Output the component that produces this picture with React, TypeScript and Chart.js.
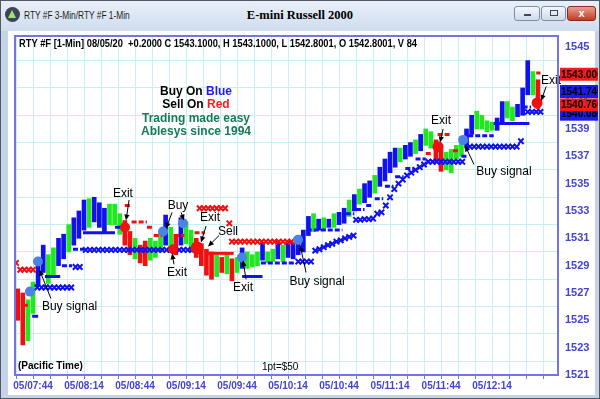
import React, { useEffect, useRef } from 'react';
import { Chart, registerables } from 'chart.js';

Chart.register(...registerables);

// ---------------- data ----------------
// 3-minute price bars (minutes after midnight, first bar 07:35)
const barStartMinute = 455;
const barStepMinutes = 3;
const barHigh = [
  1527.3, 1527.0, 1526.5, 1527.8, 1529.6, 1530.5, 1529.8, 1530.3, 1531.0, 1531.3,
  1532.0, 1532.5, 1533.0, 1533.8, 1533.9, 1534.0, 1533.6, 1533.2, 1533.5, 1533.5,
  1532.8, 1532.3, 1531.5, 1531.0, 1530.5, 1530.8, 1531.0, 1530.8, 1531.5, 1532.7,
  1531.8, 1531.3, 1532.5, 1532.2, 1531.6, 1531.0, 1530.6, 1530.2, 1530.0, 1529.8,
  1529.6, 1529.9, 1529.5, 1529.6, 1530.3, 1530.0, 1529.8, 1530.0, 1530.7, 1530.0,
  1530.2, 1530.8, 1530.5, 1530.8, 1530.7, 1531.2, 1531.6, 1532.6, 1532.8, 1532.4,
  1532.5, 1532.4, 1532.8, 1532.9, 1533.2, 1533.8, 1534.2, 1534.6, 1535.0, 1535.2,
  1535.6, 1536.2, 1536.8, 1537.3, 1537.6, 1537.6, 1537.8, 1538.0, 1538.2, 1538.6,
  1539.0, 1538.8, 1538.2, 1537.5, 1537.3, 1537.5, 1537.8, 1538.2, 1539.0, 1540.0,
  1540.3, 1540.0, 1539.6, 1539.5, 1539.8, 1541.0, 1541.0, 1540.6, 1540.8, 1542.0,
  1544.0, 1543.2, 1542.6,
];
const barLow = [
  1525.0, 1523.2, 1523.5, 1525.5, 1527.5, 1528.5, 1527.7, 1528.3, 1529.0, 1529.5,
  1530.0, 1530.5, 1531.0, 1531.6, 1531.8, 1532.2, 1531.8, 1531.4, 1532.0, 1532.0,
  1531.3, 1530.5, 1529.8, 1529.5, 1529.2, 1529.0, 1529.4, 1529.6, 1530.0, 1530.5,
  1530.0, 1529.8, 1530.5, 1530.6, 1530.0, 1529.6, 1529.0, 1528.3, 1528.0, 1528.2,
  1528.5, 1528.4, 1527.9, 1528.5, 1528.8, 1528.8, 1528.9, 1529.0, 1529.4, 1529.2,
  1529.3, 1529.5, 1529.3, 1529.6, 1529.5, 1529.8, 1530.0, 1531.2, 1531.5, 1531.6,
  1531.6, 1531.8, 1531.8, 1532.0, 1532.1, 1532.6, 1533.0, 1533.5, 1533.6, 1534.0,
  1534.3, 1534.8, 1535.2, 1535.8, 1536.2, 1536.6, 1536.8, 1537.0, 1537.2, 1537.4,
  1537.8, 1537.6, 1536.6, 1535.9, 1536.0, 1535.8, 1536.8, 1537.0, 1537.6, 1538.6,
  1539.0, 1539.0, 1538.8, 1538.9, 1538.9, 1539.4, 1539.8, 1539.6, 1539.9, 1540.0,
  1541.5, 1541.5, 1540.5,
];
const barColor = [
  'r', 'r', 'g', 'g', 'b', 'b', 'g', 'g', 'b', 'b',
  'g', 'b', 'b', 'b', 'g', 'b', 'b', 'b', 'g', 'g',
  'g', 'r', 'r', 'g', 'r', 'r', 'g', 'g', 'g', 'b',
  'g', 'r', 'b', 'g', 'g', 'r', 'r', 'r', 'r', 'g',
  'r', 'g', 'r', 'g', 'b', 'g', 'g', 'g', 'b', 'g',
  'g', 'b', 'g', 'b', 'b', 'b', 'b', 'b', 'g', 'b',
  'g', 'b', 'g', 'b', 'b', 'g', 'b', 'g', 'b', 'b',
  'g', 'b', 'b', 'b', 'b', 'g', 'b', 'b', 'g', 'b',
  'g', 'g', 'r', 'r', 'g', 'g', 'g', 'g', 'b', 'b',
  'g', 'g', 'g', 'g', 'b', 'b', 'g', 'g', 'b', 'b',
  'b', 'g', 'r',
];

// trailing stop crosses [minute, price]
const blueStopCross: [number, number][] = [
  [466.5, 1527.4], [469, 1527.4], [471.5, 1527.4], [474, 1527.4], [476.5, 1527.4], [479, 1527.4], [481.5, 1527.4], [484, 1527.4], [486.5, 1527.4],
  [489, 1528.9], [491.5, 1528.9],
  [495, 1530.15], [497.5, 1530.15], [500, 1530.15], [502.5, 1530.15], [505, 1530.15], [507.5, 1530.15], [510, 1530.15], [512.5, 1530.15], [515, 1530.15],
  [517.5, 1530.15], [520, 1530.15], [522.5, 1530.15], [525, 1530.15], [527.5, 1530.15], [530, 1530.15], [532.5, 1530.15], [535, 1530.15], [537.5, 1530.15],
  [540, 1530.15], [542.5, 1530.15], [545, 1530.15], [547.5, 1530.15], [550, 1530.15], [552.5, 1530.15], [555, 1530.15], [557.5, 1530.15], [560, 1530.15],
  [620, 1529.3], [622.5, 1529.3], [625, 1529.3], [627.5, 1529.3],
  [630, 1530.1], [632.5, 1530.2], [635, 1530.35], [637.5, 1530.5], [640, 1530.6], [642.5, 1530.75], [645, 1530.85], [647.5, 1531.0], [650, 1531.1], [652.5, 1531.2],
  [654, 1532.35], [656.5, 1532.35], [659, 1532.4], [661.5, 1532.4], [664, 1532.45], [666.5, 1532.8], [669, 1532.9], [671.5, 1533.4], [674, 1534.0],
  [676.5, 1534.6], [679, 1535.0], [681.5, 1535.3], [684, 1535.6], [686.5, 1535.8], [689, 1536.0], [691.5, 1536.2], [694, 1536.4],
  [696.5, 1536.6], [699, 1536.6], [701.5, 1536.6], [704, 1536.6], [706.5, 1536.6], [709, 1536.6], [711.5, 1536.6], [714, 1536.6], [716.5, 1536.6],
  [721, 1537.7], [723.5, 1537.7], [726, 1537.7], [728.5, 1537.7], [731, 1537.7], [733.5, 1537.7], [736, 1537.7], [738.5, 1537.7], [741, 1537.7],
  [743.5, 1537.7], [746, 1537.7], [748.5, 1537.7], [751, 1538.1],
  [755, 1540.25], [757.5, 1540.25], [760, 1540.25], [762.5, 1540.25],
];
const redStopCross: [number, number][] = [
  [454, 1529.2], [456.5, 1528.7], [459, 1528.7], [461.5, 1528.7], [464, 1528.7],
  [562, 1533.2], [564.5, 1533.2], [567, 1533.2], [569.5, 1533.2], [572, 1533.2], [574.5, 1533.2], [577, 1533.2],
  [579.5, 1532.1],
  [581, 1530.75], [583.5, 1530.75], [586, 1530.75], [588.5, 1530.75], [591, 1530.75], [593.5, 1530.75], [596, 1530.75], [598.5, 1530.75],
  [601, 1530.75], [603.5, 1530.75], [606, 1530.75], [608.5, 1530.75], [611, 1530.75], [613.5, 1530.75], [616, 1530.75], [618.5, 1530.75],
];

// trailing stop dashes [fromMinute, toMinute, price]
const blueStopSolid: [number, number, number][] = [
  [463.5, 467, 1525.3], [471, 480, 1528.2], [493.4, 512.2, 1531.4], [512.2, 516.4, 1531.8], [587, 599, 1528.2], [735, 756, 1539.4],
];
const blueStopDashed: [number, number, number][] = [
  [481, 487, 1529.0], [487.5, 494, 1530.2], [598, 618, 1529.2], [625, 646, 1531.6], [648, 653, 1532.8], [654, 659, 1533.1],
  [660, 664, 1533.4], [665, 670, 1533.9], [671, 676, 1534.8], [677, 682, 1535.5], [683, 688, 1536.1], [689, 695, 1536.8],
  [716, 720, 1537.0], [720, 735, 1538.5], [752, 757, 1540.6],
];
const redStopSolid: [number, number, number][] = [
  [567, 582, 1529.9],
];
const redStopDashed: [number, number, number][] = [
  [458, 462, 1526.1], [518, 522, 1533.4], [522, 531, 1532.2], [531, 535, 1531.8], [535, 540, 1531.2], [547, 553, 1531.2],
  [559, 565, 1531.4], [695, 699, 1537.2], [702, 709, 1538.6], [711, 714, 1537.4], [760, 762.5, 1543.1],
];

// signal dots [minute, price]
const buyDots: [number, number][] = [
  [462.2, 1527.1], [466.9, 1529.3], [540.5, 1531.5], [552.2, 1532.1], [586.9, 1529.6], [619.9, 1530.9], [717, 1538.2],
];
const exitDots: [number, number][] = [
  [518.1, 1531.8], [546.4, 1530.2], [560.5, 1530.3], [702.2, 1537.7], [760.5, 1540.9],
];

// callouts [text, minute, price] and arrows [fromMinute, fromPrice, toMinute, toPrice]
const noteLabels: [string, number, number][] = [
  ['Buy signal', 485.5, 1526.0],
  ['Exit', 516.9, 1534.3],
  ['Buy', 549.3, 1533.4],
  ['Exit', 548.7, 1528.5],
  ['Exit', 568.1, 1532.5],
  ['Sell', 578.7, 1531.5],
  ['Exit', 587.5, 1527.4],
  ['Buy signal', 631.1, 1527.8],
  ['Exit', 704, 1539.6],
  ['Buy signal', 741, 1535.9],
  ['Exit', 768.7, 1542.5],
];
const noteArrows: [number, number, number, number][] = [
  [474.5, 1526.6, 467.8, 1528.7],
  [520.5, 1533.8, 518.7, 1532.3],
  [545.8, 1532.9, 542.2, 1531.7],
  [551.1, 1532.9, 552.8, 1532.3],
  [546.9, 1529.1, 545.8, 1529.9],
  [565.8, 1531.9, 562.8, 1530.7],
  [573.4, 1531.2, 566.9, 1530.4],
  [589.3, 1528.0, 587.5, 1529.4],
  [624.6, 1528.5, 621.1, 1530.5],
  [705.2, 1539.0, 703.4, 1538.0],
  [723.4, 1536.4, 718.1, 1537.8],
  [765.8, 1542.1, 762.9, 1541.05],
];

// right-hand price tags
const priceTagValues = [1540.08, 1540.76, 1541.74, 1543.0];
const priceTagTexts = ['1540.0800', '1540.7600', '1541.7400', '1543.0000'];
const priceTagKinds = ['b', 'r', 'b', 'r'];

// axes
const xMin = 453.4;
const xMax = 772.8;
const yMin = 1521;
const yMax = 1545.8;
const xGridMinutes = [454, 464, 474, 484, 494, 504, 514, 524, 534, 544, 554, 564, 574, 584, 594, 604, 614, 624, 634, 644, 654, 664, 674, 684, 694, 704, 714, 724, 734, 744, 754, 764];
const xLabelMinutes = [464, 494, 524, 554, 584, 614, 644, 674, 704, 734];
const xLabels = ['05/07:44', '05/08:14', '05/08:44', '05/09:14', '05/09:44', '05/10:14', '05/10:44', '05/11:14', '05/11:44', '05/12:14'];
const yTickValues = [1521, 1522, 1523, 1524, 1525, 1526, 1527, 1528, 1529, 1530, 1531, 1532, 1533, 1534, 1535, 1536, 1537, 1538, 1539, 1540, 1541, 1542, 1543, 1544, 1545];

const headerText = 'RTY #F [1-Min] 08/05/20  +0.2000 C 1543.1000, H 1543.1000, L 1542.8001, O 1542.8001, V 84';

// ---------------- styles ----------------
const BLUE = '#1010f0';
const GREEN = '#1ee81e';
const RED = '#f01010';
const DOT_BLUE = '#4b82e6';
const GRID = '#c9eff6';
const AXIS_BLUE = '#4444d4';
const FRAME = '#7474e2';
const FONT = 'Arial, "Liberation Sans", sans-serif';

const segData = (segs: [number, number, number][]) =>
  segs.flatMap(([a, b, v]) => [{ x: a, y: v }, { x: b, y: v }, { x: b, y: null as any }]);
const ptData = (pts: [number, number][]) => pts.map(([x, y]) => ({ x, y }));

const overlayPlugin = {
  id: 'overlay',
  afterDatasetsDraw(chart: any) {
    const ctx = chart.ctx;
    const xs = chart.scales.x;
    const ys = chart.scales.y;
    const px = (t: number) => xs.getPixelForValue(t);
    const py = (v: number) => ys.getPixelForValue(v);
    ctx.save();
    ctx.strokeStyle = '#000';
    ctx.fillStyle = '#000';
    ctx.lineWidth = 1;
    for (const [t0, v0, t1, v1] of noteArrows) {
      const x0 = px(t0), y0 = py(v0), x1 = px(t1), y1 = py(v1);
      const a = Math.atan2(y1 - y0, x1 - x0);
      const L = 6, W = 2.6;
      ctx.beginPath();
      ctx.moveTo(x0, y0);
      ctx.lineTo(x1 - 3 * Math.cos(a), y1 - 3 * Math.sin(a));
      ctx.stroke();
      ctx.beginPath();
      ctx.moveTo(x1, y1);
      ctx.lineTo(x1 - L * Math.cos(a) + W * Math.sin(a), y1 - L * Math.sin(a) - W * Math.cos(a));
      ctx.lineTo(x1 - L * Math.cos(a) - W * Math.sin(a), y1 - L * Math.sin(a) + W * Math.cos(a));
      ctx.closePath();
      ctx.fill();
    }
    ctx.font = '12px ' + FONT;
    ctx.textAlign = 'center';
    ctx.textBaseline = 'middle';
    for (const [text, t, v] of noteLabels) ctx.fillText(text, px(t), py(v));
    ctx.restore();
  },
  afterDraw(chart: any) {
    const ctx = chart.ctx;
    const area = chart.chartArea;
    const ys = chart.scales.y;
    ctx.save();
    // header line
    ctx.fillStyle = '#000';
    ctx.font = 'bold 10px ' + FONT;
    ctx.textAlign = 'left';
    ctx.textBaseline = 'middle';
    ctx.fillText(headerText, area.left + 4, 44, 398);
    // brand block
    const cx = 196;
    const two = (a: string, b: string, col: string, y: number) => {
      ctx.font = 'bold 12px ' + FONT;
      const wa = ctx.measureText(a).width;
      const wb = ctx.measureText(b).width;
      const x0 = cx - (wa + wb) / 2;
      ctx.textAlign = 'left';
      ctx.fillStyle = '#000';
      ctx.fillText(a, x0, y);
      ctx.fillStyle = col;
      ctx.fillText(b, x0 + wa, y);
    };
    two('Buy On ', 'Blue', '#1a1aff', 92);
    two('Sell On ', 'Red', '#ff1a1a', 105);
    ctx.textAlign = 'center';
    ctx.fillStyle = '#177a56';
    ctx.fillText('Trading made easy', cx, 119);
    ctx.fillText('Ablesys since 1994', cx, 132);
    // footer
    ctx.textAlign = 'left';
    ctx.fillStyle = '#000';
    ctx.font = 'bold 10px ' + FONT;
    ctx.fillText('(Pacific Time)', area.left + 3, 366);
    ctx.font = '10px ' + FONT;
    ctx.fillText('1pt=$50', 262, 367);
    // frame
    ctx.strokeStyle = FRAME;
    ctx.lineWidth = 2;
    ctx.strokeRect(area.left, area.top, area.right - area.left, area.bottom - area.top);
    // price tags
    priceTagValues.forEach((v, i) => {
      const y = ys.getPixelForValue(v);
      const bx = area.right + 2;
      const bw = 598 - bx;
      ctx.fillStyle = priceTagKinds[i] === 'r' ? '#f51a1a' : '#1a1af2';
      ctx.fillRect(bx, y - 6.5, bw, 13);
      ctx.save();
      ctx.beginPath();
      ctx.rect(bx, y - 6.5, bw, 13);
      ctx.clip();
      ctx.fillStyle = '#000';
      ctx.font = 'bold 10px ' + FONT;
      ctx.textAlign = 'left';
      ctx.textBaseline = 'middle';
      ctx.fillText(priceTagTexts[i], bx + 1, y + 0.5);
      ctx.restore();
    });
    ctx.restore();
  },
};

export default function App() {
  const ref = useRef<HTMLCanvasElement>(null);
  useEffect(() => {
    const canvas = ref.current;
    if (!canvas) return;
    const chart = new Chart(canvas, {
      type: 'bar',
      data: {
        datasets: [
          {
            type: 'line',
            data: ptData(buyDots),
            showLine: false,
            pointStyle: 'circle',
            pointRadius: 5,
            pointBorderWidth: 0,
            pointBackgroundColor: DOT_BLUE,
            pointBorderColor: DOT_BLUE,
            order: 0,
          } as any,
          {
            type: 'line',
            data: ptData(exitDots),
            showLine: false,
            pointStyle: 'circle',
            pointRadius: [5, 5, 6.5, 5.5, 5.5],
            pointBorderWidth: 0,
            pointBackgroundColor: RED,
            pointBorderColor: RED,
            order: 0,
          } as any,
          {
            type: 'line',
            data: ptData(blueStopCross),
            showLine: false,
            pointStyle: 'crossRot',
            pointRadius: 3.8,
            pointBorderWidth: 2,
            pointBorderColor: BLUE,
            pointBackgroundColor: BLUE,
            order: 1,
          } as any,
          {
            type: 'line',
            data: ptData(redStopCross),
            showLine: false,
            pointStyle: 'crossRot',
            pointRadius: 3.8,
            pointBorderWidth: 2,
            pointBorderColor: RED,
            pointBackgroundColor: RED,
            order: 1,
          } as any,
          {
            type: 'line',
            data: segData(blueStopSolid),
            borderColor: BLUE,
            borderWidth: 3,
            pointRadius: 0,
            spanGaps: false,
            order: 2,
          } as any,
          {
            type: 'line',
            data: segData(blueStopDashed),
            borderColor: BLUE,
            borderWidth: 3,
            borderDash: [5, 2],
            pointRadius: 0,
            spanGaps: false,
            order: 2,
          } as any,
          {
            type: 'line',
            data: segData(redStopSolid),
            borderColor: RED,
            borderWidth: 3,
            pointRadius: 0,
            spanGaps: false,
            order: 2,
          } as any,
          {
            type: 'line',
            data: segData(redStopDashed),
            borderColor: RED,
            borderWidth: 3,
            borderDash: [5, 2],
            pointRadius: 0,
            spanGaps: false,
            order: 2,
          } as any,
          {
            type: 'bar',
            data: barHigh.map((h, i) => ({ x: barStartMinute + i * barStepMinutes, y: [barLow[i], h] })),
            backgroundColor: barColor.map((c) => (c === 'b' ? BLUE : c === 'g' ? GREEN : RED)),
            borderWidth: 0,
            barThickness: 4,
            grouped: false,
            order: 5,
          } as any,
        ],
      },
      options: {
        responsive: false,
        animation: false,
        events: [],
        layout: { padding: { left: 15, top: 36, right: 0, bottom: 0 } },
        plugins: { legend: { display: false }, tooltip: { enabled: false } },
        scales: {
          x: {
            type: 'linear',
            min: xMin,
            max: xMax,
            offset: false,
            afterFit: (s: any) => { s.height = 24; },
            afterBuildTicks: (s: any) => { s.ticks = xGridMinutes.map((v) => ({ value: v })); },
            grid: { color: GRID, offset: false, drawTicks: true, tickLength: 4, tickColor: FRAME, tickWidth: 1 },
            border: { display: false },
            ticks: {
              autoSkip: false,
              maxRotation: 0,
              padding: 1,
              color: AXIS_BLUE,
              font: { size: 10, weight: 'bold', family: FONT },
              callback: (v: any) => {
                const k = xLabelMinutes.indexOf(Number(v));
                return k >= 0 ? xLabels[k] : '';
              },
            },
          },
          y: {
            type: 'linear',
            position: 'right',
            min: yMin,
            max: yMax,
            afterFit: (s: any) => { s.width = 42; },
            afterBuildTicks: (s: any) => { s.ticks = yTickValues.map((v) => ({ value: v })); },
            grid: {
              drawTicks: false,
              color: (c: any) => (c.tick && c.tick.value % 2 === 0 ? GRID : 'rgba(0,0,0,0)'),
            },
            border: { display: false },
            ticks: {
              autoSkip: false,
              padding: 7,
              color: AXIS_BLUE,
              font: { size: 11, weight: 'bold', family: FONT },
              callback: (v: any) => (Number(v) % 2 === 1 ? String(v) : ''),
            },
          },
        },
      } as any,
      plugins: [overlayPlugin],
    });
    return () => chart.destroy();
  }, []);

  const btn = {
    position: 'absolute' as const,
    top: 6,
    height: 15,
    border: '1px solid #7f8fa6',
    borderRadius: 3,
    boxSizing: 'border-box' as const,
  };

  return (
    <div style={{ position: 'fixed', left: 0, top: 0, width: 600, height: 399, overflow: 'hidden', background: '#c4d3e7', boxShadow: 'inset 0 0 0 1px #505a68' }}>
      <div style={{ position: 'absolute', left: 1, top: 1, width: 598, height: 30, background: 'linear-gradient(#e8eff8, #d0ddee)' }} />
      <div style={{ position: 'absolute', left: 5, top: 7, width: 15, height: 15, borderRadius: 8, background: '#3b4654' }} />
      <div style={{ position: 'absolute', left: 8, top: 10, width: 0, height: 0, borderLeft: '4.5px solid transparent', borderRight: '4.5px solid transparent', borderBottom: '8px solid #9be07a' }} />
      <div style={{ position: 'absolute', left: 24, top: 8, fontSize: 11, lineHeight: '14px', fontFamily: FONT, color: '#1e1e1e', whiteSpace: 'nowrap', transform: 'scaleX(0.76)', transformOrigin: 'left top' }}>RTY #F 3-Min/RTY #F 1-Min</div>
      <div style={{ position: 'absolute', left: 0, top: 7, width: 600, textAlign: 'center', fontSize: 12.5, lineHeight: '16px', fontWeight: 'bold', fontFamily: '"Liberation Serif", "DejaVu Serif", serif', color: '#000' }}>E-mini Russell 2000</div>
      <div style={{ ...btn, left: 514, width: 26, background: 'linear-gradient(#f4f7fb, #cfdbea)' }}>
        <div style={{ position: 'absolute', left: 9, top: 7, width: 7, height: 2, background: '#3a4a5c' }} />
      </div>
      <div style={{ ...btn, left: 541, width: 25, background: 'linear-gradient(#f4f7fb, #cfdbea)' }}>
        <div style={{ position: 'absolute', left: 8, top: 3, width: 8, height: 6, border: '1.5px solid #3a4a5c', boxSizing: 'border-box' }} />
      </div>
      <div style={{ ...btn, left: 567, width: 29, background: 'linear-gradient(#e9a08f, #c43b22)', border: '1px solid #8a2a1c', color: '#fff', fontSize: 11, fontWeight: 'bold', fontFamily: FONT, textAlign: 'center', lineHeight: '13px' }}>x</div>
      <div style={{ position: 'absolute', left: 8, top: 31, width: 587, height: 364, background: '#ffffff' }} />
      <canvas ref={ref} width={600} height={399} style={{ position: 'absolute', left: 0, top: 0, width: 600, height: 399 }} />
    </div>
  );
}
